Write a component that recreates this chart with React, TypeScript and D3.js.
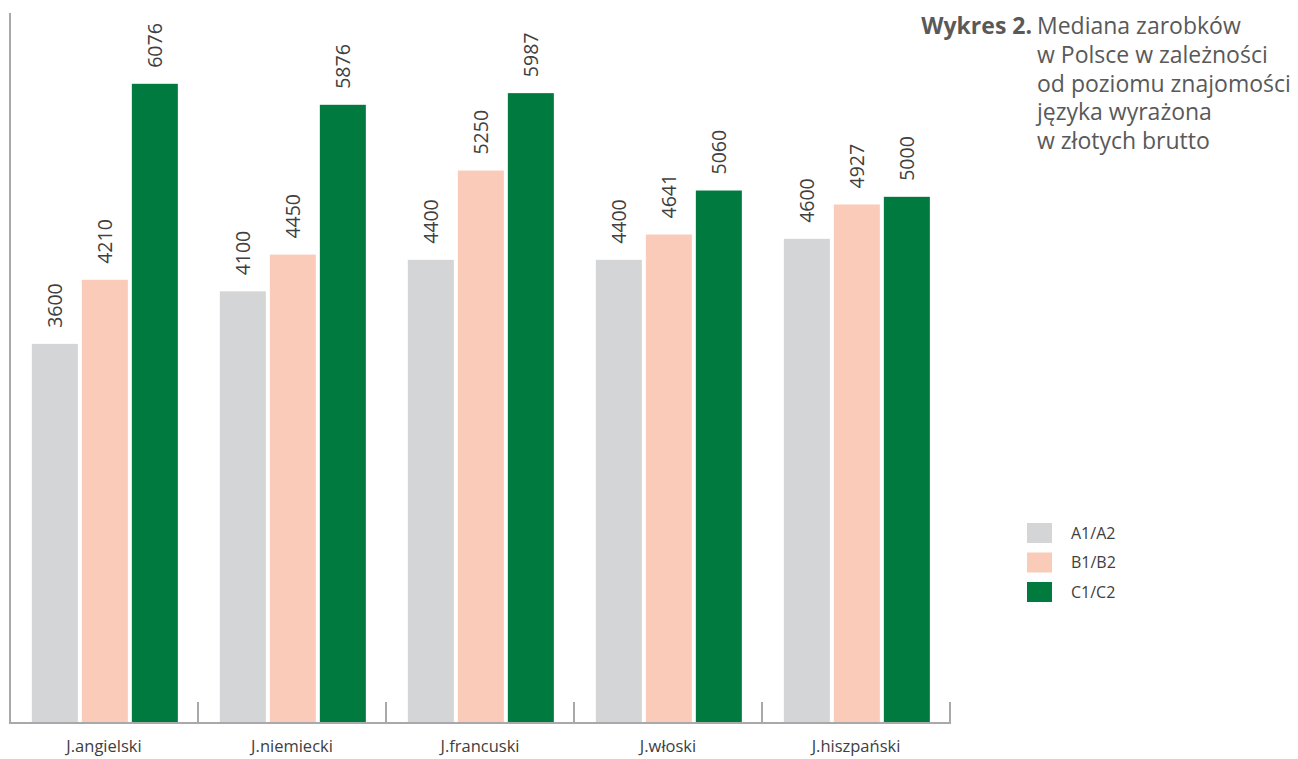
import React from "react";
import * as d3 from "d3";

// Median gross salary by language and proficiency level (PLN)
const categories = ["J.angielski", "J.niemiecki", "J.francuski", "J.włoski", "J.hiszpański"];
const levels = ["A1/A2", "B1/B2", "C1/C2"];
const a1a2 = [3600, 4100, 4400, 4400, 4600];
const b1b2 = [4210, 4450, 5250, 4641, 4927];
const c1c2 = [6076, 5876, 5987, 5060, 5000];
const colors = ["#d4d5d7", "#fbcbb9", "#007a3e"];
const titleBold = "Wykres 2.";
const titleLines = [
  "Mediana zarobków",
  "w Polsce w zależności",
  "od poziomu znajomości",
  "języka wyrażona",
  "w złotych brutto",
];

const W = 1298;
const H = 759;
const font = "'Open Sans', 'Noto Sans', sans-serif";
const axisColor = "#a9a9ab";
const textColor = "#404040";

export default function App() {
  const series = [a1a2, b1b2, c1c2];
  const x0 = d3.scaleBand<string>().domain(categories).range([10, 950]).padding(0);
  const x1 = d3
    .scaleBand<string>()
    .domain(levels)
    .range([0, x0.bandwidth()])
    .paddingInner(0.08)
    .paddingOuter(0.42)
    .align(0.52);
  const y = d3.scaleLinear().domain([0, 6750]).range([722, 13]);
  const baseY = y(0);

  const tickXs = categories.map((c) => (x0(c) as number) + x0.bandwidth());

  return (
    <svg
      width={W}
      height={H}
      style={{ position: "absolute", left: 0, top: 0, background: "#fff" }}
      fontFamily={font}
    >
      {/* bars and value labels */}
      {categories.map((cat, ci) => (
        <g key={cat} transform={`translate(${x0(cat)},0)`}>
          {levels.map((lv, si) => {
            const v = series[si][ci];
            const bx = x1(lv) as number;
            const bw = x1.bandwidth();
            const top = y(v);
            return (
              <g key={lv}>
                <rect x={bx} y={top} width={bw} height={baseY - top} fill={colors[si]} />
                <text
                  transform={`translate(${bx + bw / 2},${top - 16}) rotate(-90)`}
                  dy="0.36em"
                  fontSize={19.5}
                  fill={textColor}
                  textAnchor="start"
                >
                  {v}
                </text>
              </g>
            );
          })}
          <text
            x={x0.bandwidth() / 2}
            y={752}
            textAnchor="middle"
            fontSize={16.5}
            fill={textColor}
          >
            {cat}
          </text>
        </g>
      ))}

      {/* axes */}
      <line x1={10} x2={10} y1={13} y2={724} stroke={axisColor} strokeWidth={2} />
      <line x1={9} x2={951} y1={723} y2={723} stroke={axisColor} strokeWidth={2} />
      {tickXs.map((tx, i) => (
        <line key={i} x1={tx} x2={tx} y1={702} y2={723} stroke={axisColor} strokeWidth={2} />
      ))}

      {/* title */}
      <g fill="#595959" fontSize={23}>
        <text x={1032} y={34} textAnchor="end" fontWeight="bold">
          {titleBold}
        </text>
        {titleLines.map((line, i) => (
          <text key={i} x={1037} y={34 + i * 28.8}>
            {line}
          </text>
        ))}
      </g>

      {/* legend */}
      {levels.map((lv, i) => (
        <g key={lv} transform={`translate(1027,${523 + i * 29.5})`}>
          <rect width={25} height={20} fill={colors[i]} />
          <text x={44} y={10} dy="0.36em" fontSize={16} fill={textColor}>
            {lv}
          </text>
        </g>
      ))}
    </svg>
  );
}
